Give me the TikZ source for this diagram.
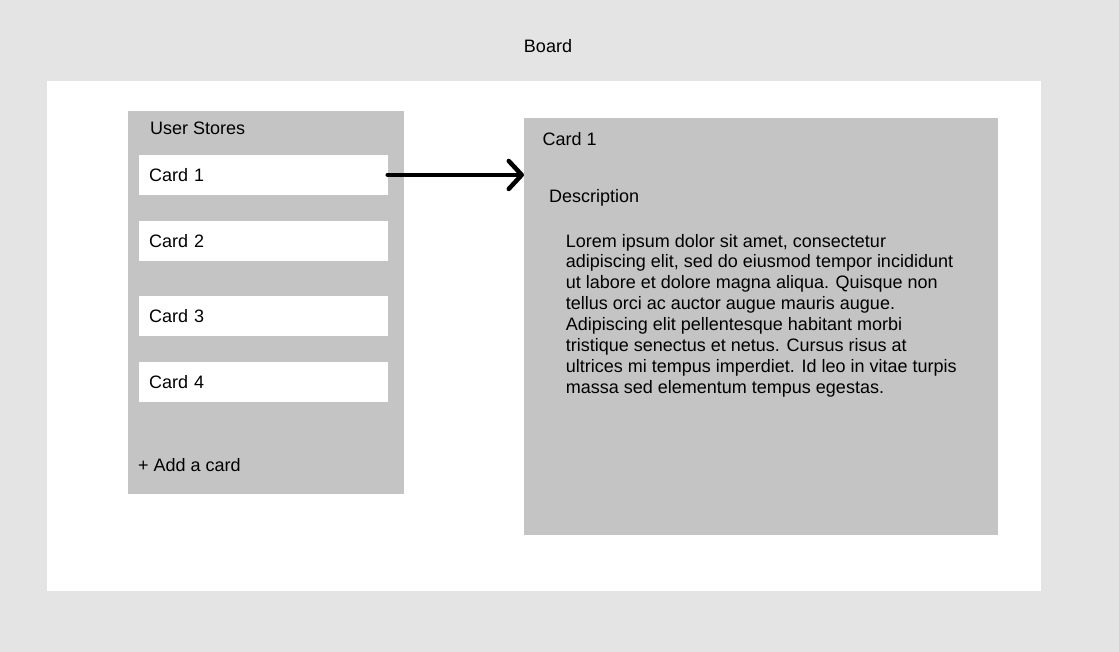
\documentclass[tikz,border=0pt]{standalone}
\usepackage{fontspec}
\setmainfont{Liberation Sans}
\usetikzlibrary{arrows.meta}
\definecolor{bggray}{HTML}{E4E4E4}
\definecolor{panelgray}{HTML}{C4C4C4}
\begin{document}
\begin{tikzpicture}[x=1pt,y=-1pt,
  txt/.style={inner sep=0pt, font=\fontsize{18}{20.86}\selectfont, text=black},
  panel/.style={fill=panelgray, draw=none, inner sep=0pt, anchor=north west},
  cardbox/.style={fill=white, draw=none, anchor=north west, inner ysep=0pt, inner xsep=10.5pt,
    minimum width=248.8pt, minimum height=40.5pt, text width=227.8pt, align=left,
    text height=12.9pt, text depth=0pt, font=\fontsize{18}{20.86}\selectfont},
  linkarrow/.style={line width=4.5pt, line cap=round, -{Straight Barb[length=13pt, width=28pt, round]}}
]
\fill[bggray] (0,0) rectangle (1119,652);
\useasboundingbox (0,0) rectangle (1119,652);
% board
\node[fill=white, inner sep=0pt, anchor=north west, minimum width=993.5pt, minimum height=510pt] (board) at (47,81) {};
\node[txt, anchor=base] (boardtitle) at (548,52.3) {Board};
% list
\node[panel, minimum width=276pt, minimum height=383pt] (list) at (128,111) {};
\node[txt, anchor=base west] (listtitle) at (150,135) {User Stores};
\node[cardbox] (c1) at (138.5,154.5) {Card 1};
\node[cardbox] (c2) at (138.5,220.5) {Card 2};
\node[cardbox] (c3) at (138.5,295.5) {Card 3};
\node[cardbox] (c4) at (138.5,361.5) {Card 4};
\node[txt, anchor=base west] (add) at (138,471.7) {+ Add a card};
% detail
\node[panel, minimum width=474pt, minimum height=416.7pt] (detail) at (524,118.3) {};
\node[txt, anchor=base west] (dtitle) at (542.4,145.7) {Card 1};
\node[txt, anchor=base west] (desc) at (549,202.7) {Description};
\node[txt, anchor=north west, align=left] (lorem) at (565.7,233.8) {Lorem ipsum dolor sit amet, consectetur\\
adipiscing elit, sed do eiusmod tempor incididunt\\
ut labore et dolore magna aliqua. Quisque non\\
tellus orci ac auctor augue mauris augue.\\
Adipiscing elit pellentesque habitant morbi\\
tristique senectus et netus. Cursus risus at\\
ultrices mi tempus imperdiet. Id leo in vitae turpis\\
massa sed elementum tempus egestas.};
% connector
\draw[linkarrow] (c1.east) -- (c1.east -| detail.west);
\end{tikzpicture}
\end{document}
